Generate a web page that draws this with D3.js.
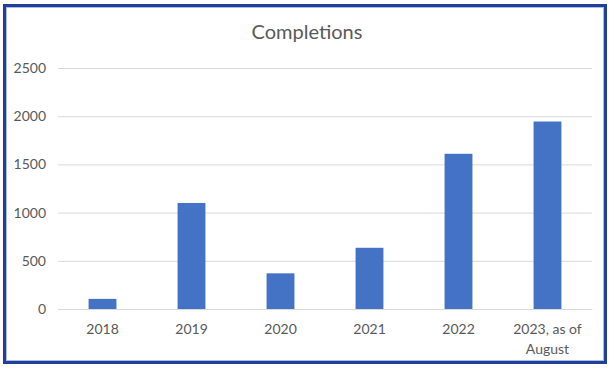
<!DOCTYPE html>
<html lang="en">
    <head>
        <meta charset="utf-8">
        <title>Completions</title>
        <script type="text/javascript" src="https://d3js.org/d3.v7.min.js"></script>
        <style type="text/css">
            body { margin: 0; background: #fff; }
            text { font-family: "Lato", "Open Sans", sans-serif; fill: #595959; }
        </style>
    </head>
    <body>
        <script type="text/javascript">

        // Data
        const years = ["2018", "2019", "2020", "2021", "2022", "2023, as of August"];
        const completions = [105, 1100, 370, 635, 1610, 1945];
        const yTicks = [0, 500, 1000, 1500, 2000, 2500];

        const width = 614;
        const height = 372;
        const plotLeft = 58, plotRight = 592, plotTop = 68, plotBottom = 309;

        const dataset = years.map((y, i) => ({year: y, value: completions[i]}));

        // Scales
        const xScale = d3.scaleBand()
                        .domain(years)
                        .range([plotLeft, plotRight])
                        .paddingInner(0.687)
                        .paddingOuter(0.3435);

        const yScale = d3.scaleLinear()
                        .domain([0, 2500])
                        .range([plotBottom, plotTop]);

        // SVG
        const svg = d3.select("body")
                    .append("svg")
                    .attr("width", width)
                    .attr("height", height);

        // Frame
        svg.append("rect")
            .attr("x", 4.5).attr("y", 5.5)
            .attr("width", 601).attr("height", 357)
            .attr("fill", "#fff")
            .attr("stroke", "#1f3f99")
            .attr("stroke-width", 3);
        svg.append("rect")
            .attr("x", 6.5).attr("y", 7.5)
            .attr("width", 597).attr("height", 353)
            .attr("fill", "none")
            .attr("stroke", "#a9bde6")
            .attr("stroke-width", 1);

        // Title
        svg.append("text")
            .attr("x", 307)
            .attr("y", 39)
            .attr("text-anchor", "middle")
            .style("font-size", "20px")
            .text("Completions");

        // Gridlines + y labels
        const leftAxis = d3.axisLeft(yScale)
                            .tickValues(yTicks)
                            .tickSize(-(plotRight - plotLeft))
                            .tickPadding(12)
                            .tickFormat(d3.format("d"));

        const gy = svg.append("g")
            .attr("transform", "translate(" + plotLeft + ",0)")
            .call(leftAxis);
        gy.select(".domain").remove();
        gy.selectAll(".tick line").attr("stroke", "#d9d9d9").attr("stroke-width", 1);
        gy.selectAll(".tick text").style("font-size", "14px").attr("fill", "#595959");

        // Bars
        svg.selectAll("rect.bar")
            .data(dataset)
            .enter()
            .append("rect")
            .attr("class", "bar")
            .attr("x", d => xScale(d.year))
            .attr("y", d => yScale(d.value))
            .attr("width", xScale.bandwidth())
            .attr("height", d => plotBottom - yScale(d.value))
            .attr("fill", "#4472c4");

        // X labels
        const bottomAxis = d3.axisBottom(xScale)
                            .tickSize(0)
                            .tickPadding(15);

        const gx = svg.append("g")
            .attr("transform", "translate(0," + plotBottom + ")")
            .call(bottomAxis);
        gx.select(".domain").attr("stroke", "#d9d9d9");
        gx.selectAll(".tick text")
            .style("font-size", "14px")
            .attr("fill", "#595959")
            .each(function(d) {
                if (d.indexOf(", as of") > -1) {
                    const t = d3.select(this);
                    const parts = ["2023, as of", "August"];
                    t.text(null);
                    parts.forEach((p, i) => {
                        t.append("tspan")
                            .attr("x", 0)
                            .attr("dy", i === 0 ? "0.71em" : "1.45em")
                            .text(p);
                    });
                }
            });
        </script>
    </body>
</html>
